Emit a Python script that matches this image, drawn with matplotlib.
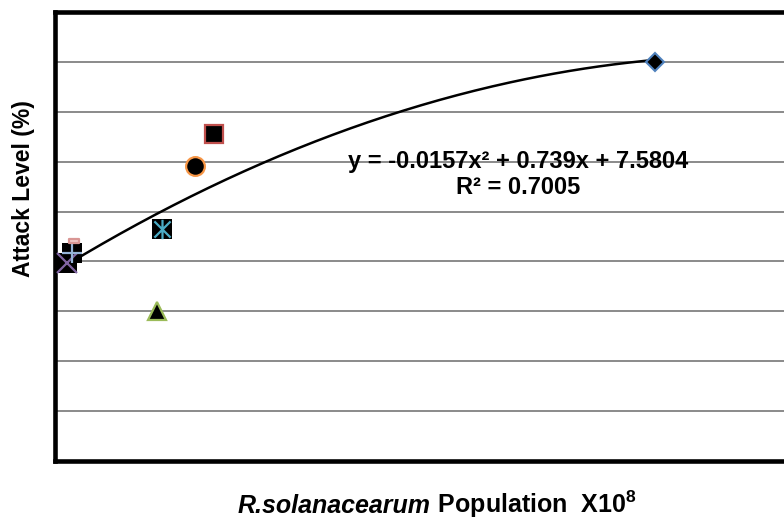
import numpy as np
import matplotlib.pyplot as plt
from matplotlib.path import Path

plt.rcParams['font.family'] = ['Liberation Sans', 'DejaVu Sans']
plt.rcParams['mathtext.fontset'] = 'custom'
plt.rcParams['mathtext.rm'] = 'Liberation Sans:bold'
plt.rcParams['mathtext.it'] = 'Liberation Sans:bold:italic'
plt.rcParams['mathtext.bf'] = 'Liberation Sans:bold'

# values (population x10^8 vs attack level %)
population = [20.0, 5.3, 3.4, 0.4, 3.57, 4.67, 0.57, 0.63]
attack = [16.0, 13.1, 6.0, 7.92, 9.32, 11.84, 8.32, 8.8]
marker_kind = ['diamond', 'square', 'triangle', 'x', 'star', 'circle', 'plus', 'dash']
edge_colors = ['#4F81BD', '#C0504D', '#9BBB59', '#8064A2', '#4BACC6',
               '#F79646', '#95B3D7', '#D99694']

# trendline shown on the chart
coef = [-0.0157, 0.739, 7.5804]
r_squared = 0.7005

grid_levels = [2, 4, 6, 8, 10, 12, 14, 16]

asterisk = Path([(-1, -1), (1, 1), (-1, 1), (1, -1), (0, -1.2), (0, 1.2)],
                [Path.MOVETO, Path.LINETO, Path.MOVETO, Path.LINETO,
                 Path.MOVETO, Path.LINETO])
dash = Path([(-1, -0.45), (1, -0.45), (1, 0.45), (-1, 0.45), (-1, -0.45)],
            [Path.MOVETO, Path.LINETO, Path.LINETO, Path.LINETO, Path.CLOSEPOLY])

fig = plt.figure(figsize=(7.84, 5.22), dpi=100)
# the right side of the plot area runs off the picture, like the original
ax = fig.add_axes([55 / 784, 61 / 522, 750 / 784, 449 / 522])
ax.set_xlim(0, 25)
ax.set_ylim(0, 18)

for g in grid_levels:
    ax.axhline(g, color='#8a8a8a', lw=1.4, zorder=1)

# polynomial trendline over the data range
xs = np.linspace(min(population), max(population), 200)
ax.plot(xs, np.polyval(coef, xs), color='black', lw=1.8, zorder=2)

for x, y, kind, ec in zip(population, attack, marker_kind, edge_colors):
    if kind == 'diamond':
        ax.plot(x, y, marker='D', ms=9.5, mfc='black', mec=ec, mew=1.5, zorder=4)
    elif kind == 'square':
        ax.plot(x, y, marker='s', ms=13, mfc='black', mec=ec, mew=1.6, zorder=4)
    elif kind == 'triangle':
        ax.plot(x, y, marker='^', ms=13.5, mfc='black', mec=ec, mew=1.6, zorder=4)
    elif kind == 'circle':
        ax.plot(x, y, marker='o', ms=13.5, mfc='black', mec=ec, mew=1.6, zorder=4)
    elif kind == 'dash':
        ax.plot(x, y, marker=dash, ms=7.5, mfc='#f0c8c7', mec=ec, mew=1.6, zorder=5)
    else:
        glyph = {'x': 'x', 'plus': '+', 'star': asterisk}[kind]
        ax.plot(x, y, marker='s', ms=15, mfc='black', mec='black', mew=0, zorder=3)
        ax.plot(x, y, marker=glyph, ms=14, mec=ec, mew=1.6, zorder=4)

ax.text(15.43, 12.0, 'y = -0.0157x² + 0.739x + 7.5804', ha='center', va='center',
        fontsize=17, fontweight='bold', zorder=6)
ax.text(15.43, 10.96, f'R² = {r_squared:.4f}', ha='center', va='center',
        fontsize=17, fontweight='bold', zorder=6)

ax.set_xticks([])
ax.set_yticks([])
for side in ['left', 'right', 'top', 'bottom']:
    ax.spines[side].set_linewidth(3.3)
    ax.spines[side].set_color('black')

fig.text(24 / 784, 1 - 189 / 522, 'Attack Level (%)', rotation=90,
         ha='center', va='center', fontsize=16.5, fontweight='bold')

# x label in two pieces sharing one baseline: italic species name + the rest
base_y = 1 - 513 / 522
lab = fig.text(238 / 784, base_y, 'R.solanacearum', ha='left', va='baseline',
               fontsize=18, fontweight='bold', style='italic')
renderer = fig.canvas.get_renderer()
x_end = lab.get_window_extent(renderer).x1 / fig.bbox.width
fig.text(x_end, base_y, ' Population  X10$^{8}$', ha='left', va='baseline',
         fontsize=18, fontweight='bold')

fig.savefig('out.png', dpi=100)
